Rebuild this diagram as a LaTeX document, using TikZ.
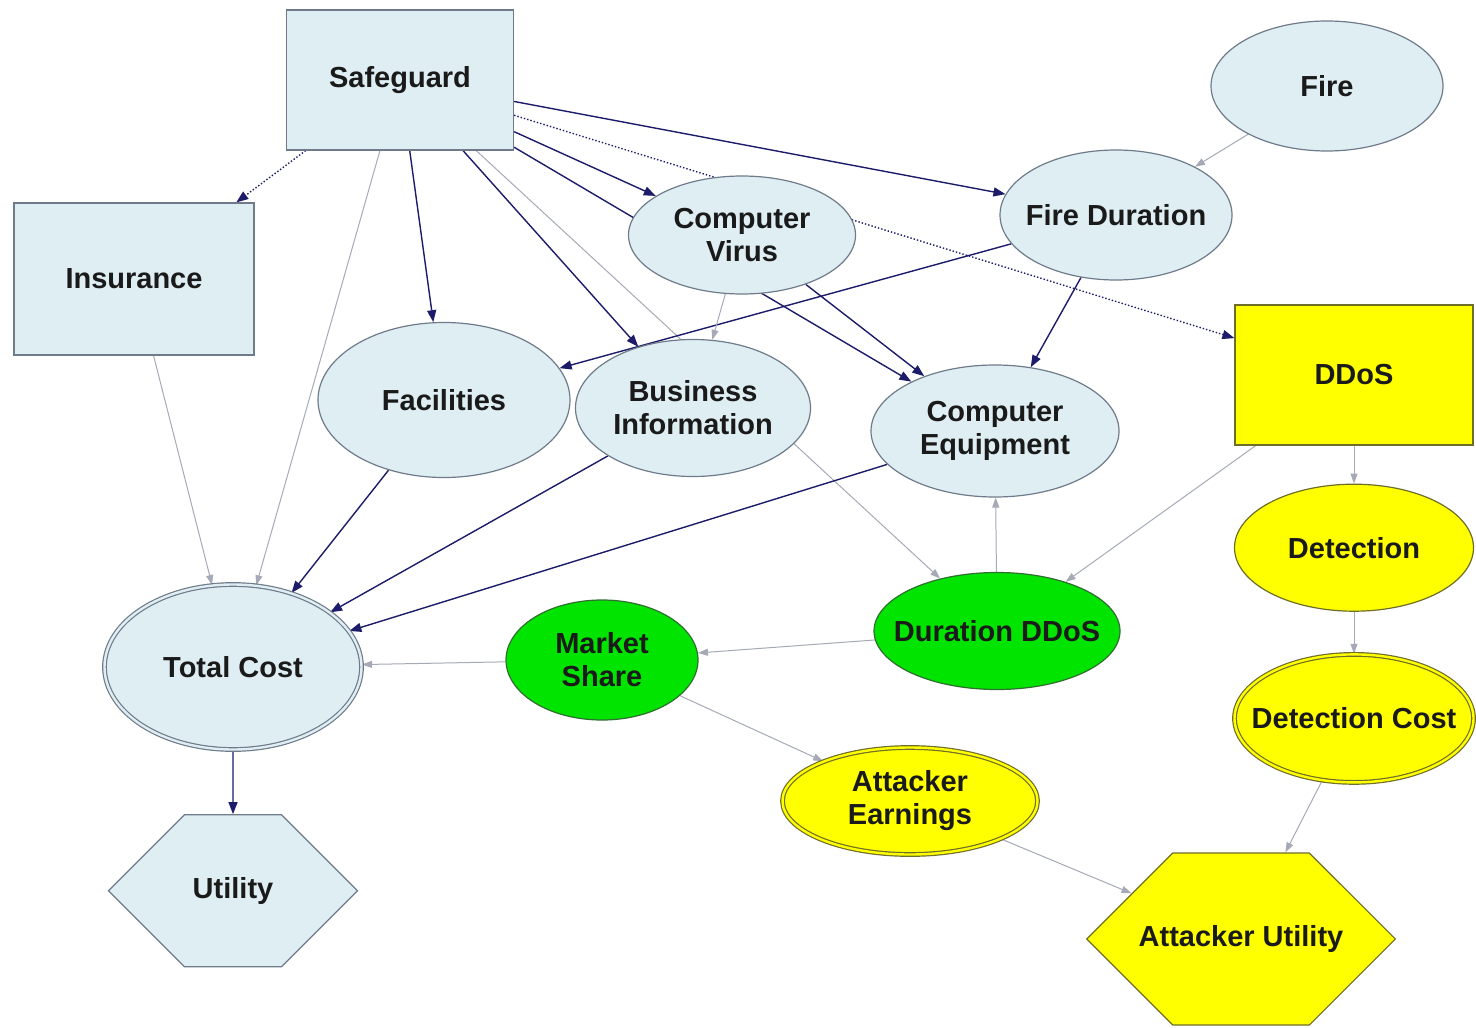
\documentclass[tikz,border=0pt]{standalone}
\usepackage{fontspec}
\setmainfont{Liberation Sans}
\usetikzlibrary{positioning, arrows.meta, shapes.geometric, shapes.symbols, backgrounds}
\definecolor{bgNode}{HTML}{DFEEF3}
\definecolor{borderNode}{HTML}{6F7B8A}
\definecolor{bgAttack}{HTML}{FFFF00}
\definecolor{borderAttack}{HTML}{6E6E28}
\definecolor{bgOutage}{HTML}{00E400}
\definecolor{borderOutage}{HTML}{2F6F2F}
\definecolor{arrowNavy}{HTML}{1C1C6B}
\definecolor{arrowGray}{HTML}{A6AAB6}
\definecolor{textMain}{HTML}{1A1A1A}
\tikzset{
  nodebase/.style={font=\fontsize{14.5}{16.5}\selectfont\bfseries, text=textMain,
    align=center, inner sep=2pt, line width=0.6pt},
  decision/.style={nodebase, rectangle, draw=borderNode, fill=bgNode},
  chance/.style={nodebase, ellipse, inner xsep=-9.5pt, draw=borderNode, fill=bgNode},
  attackbox/.style={nodebase, rectangle, draw=borderAttack, fill=bgAttack},
  attack/.style={nodebase, ellipse, inner xsep=-9.5pt, draw=borderAttack, fill=bgAttack},
  outage/.style={nodebase, ellipse, inner xsep=-9.5pt, draw=borderOutage, fill=bgOutage},
  costnode/.style={double distance=1.2pt, line width=0.6pt},
  utilnode/.style={nodebase, signal, signal to=west and east, signal pointer angle=90},
  navyarrow/.style={-{Triangle[length=6pt, width=4.5pt]}, line width=0.7pt, draw=arrowNavy},
  grayarrow/.style={-{Triangle[length=5pt, width=3.5pt]}, line width=0.5pt, draw=arrowGray},
  dotarrow/.style={navyarrow, densely dotted},
}
\begin{document}
\begin{tikzpicture}[x=0.5pt, y=-0.5pt]
  \useasboundingbox (0,0) rectangle (1476,1027);

  % === Defender side ===
  \node[decision, minimum width=113.5pt, minimum height=70pt] (sg) at (400,80) {Safeguard};
  \node[decision, minimum width=120pt, minimum height=76pt] (ins) at (134,279) {Insurance};
  \node[chance, minimum width=116pt, minimum height=65pt] (fire) at (1327,86) {Fire};
  \node[chance, minimum width=113.5pt, minimum height=59pt] (virus) at (742,235) {Computer\\Virus};
  \node[chance, minimum width=116pt, minimum height=65pt] (fdur) at (1116,215) {Fire Duration};
  \node[chance, minimum width=126pt, minimum height=77.5pt] (fac) at (444,400) {Facilities};
  \node[chance, minimum width=117.5pt, minimum height=68.5pt] (binfo) at (693,408) {Business\\Information};
  \node[chance, minimum width=124pt, minimum height=66pt] (cequip) at (995,431) {Computer\\Equipment};
  \node[chance, costnode, draw=borderNode, double=bgNode, minimum width=128.5pt,
    minimum height=82.5pt] (tcost) at (233,667) {Total Cost};
  \node[utilnode, draw=borderNode, fill=bgNode, minimum width=124.5pt, minimum height=76pt,
    below=32pt of tcost] (util) {Utility};

  % === Attacker side ===
  \node[attackbox, minimum width=119pt, minimum height=70pt] (ddos) at (1354,375) {DDoS};
  \node[attack, minimum width=119.5pt, minimum height=63.5pt, below=19pt of ddos] (detect) {Detection};
  \node[attack, costnode, draw=borderAttack, double=bgAttack, minimum width=119.5pt,
    minimum height=64pt, below=21pt of detect] (dcost) {Detection Cost};
  \node[outage, minimum width=123pt, minimum height=58.5pt] (ddur) at (997,631) {Duration DDoS};
  \node[outage, minimum width=96pt, minimum height=60pt] (mshare) at (602,660) {Market\\Share};
  \node[attack, costnode, draw=borderAttack, double=bgAttack, minimum width=127.5pt,
    minimum height=53.5pt] (aearn) at (910,801) {Attacker\\Earnings};
  \node[utilnode, inner xsep=-17pt, draw=borderAttack, fill=bgAttack, minimum width=154pt,
    minimum height=86pt] (autil) at (1241,939) {Attacker Utility};

  % === Influences, drawn behind the nodes ===
  \begin{scope}[on background layer]
    \fill[white] (0,0) rectangle (1476,1027);
    \draw[navyarrow] (sg) -- (fdur);
    \draw[navyarrow] (sg) -- (virus);
    \draw[navyarrow] (sg) -- (cequip);
    \draw[navyarrow] (sg) -- (fac);
    \draw[navyarrow] (sg) -- (binfo);
    \draw[dotarrow] (sg) -- (ins);
    \draw[dotarrow] (sg) -- (ddos);
    \draw[grayarrow] (sg) -- (tcost);
    \draw[grayarrow] (sg) -- (ddur);
    \draw[grayarrow] (ins) -- (tcost);
    \draw[grayarrow] (fire) -- (fdur);
    \draw[navyarrow] (fdur) -- (cequip);
    \draw[navyarrow] (fdur) -- (fac);
    \draw[grayarrow] (virus) -- (binfo);
    \draw[navyarrow] (virus) -- (cequip);
    \draw[navyarrow] (fac) -- (tcost);
    \draw[navyarrow] (binfo) -- (tcost);
    \draw[navyarrow] (cequip) -- (tcost);
    \draw[navyarrow] (tcost) -- (util);
    \draw[grayarrow] (ddos) -- (detect);
    \draw[grayarrow] (ddos) -- (ddur);
    \draw[grayarrow] (detect) -- (dcost);
    \draw[grayarrow] (dcost) -- (autil);
    \draw[grayarrow] (ddur) -- (cequip);
    \draw[grayarrow] (ddur) -- (mshare);
    \draw[grayarrow] (mshare) -- (tcost);
    \draw[grayarrow] (mshare) -- (aearn);
    \draw[grayarrow] (aearn) -- (autil);
  \end{scope}

\end{tikzpicture}
\end{document}
